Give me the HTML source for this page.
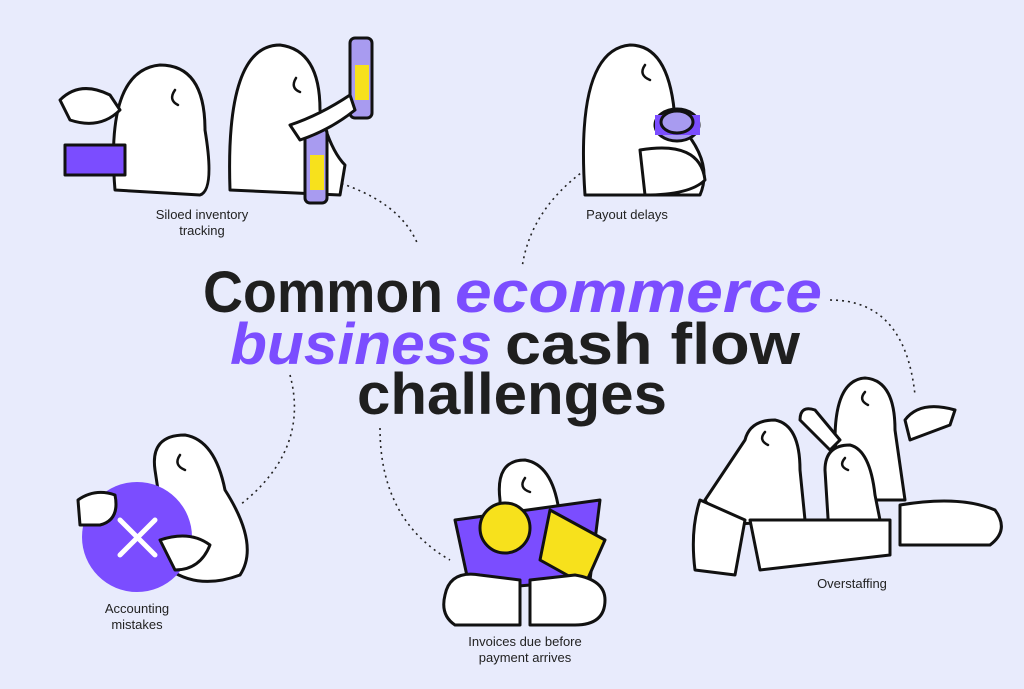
<!DOCTYPE html>
<html><head><meta charset="utf-8"><style>
html,body{margin:0;padding:0;background:#e8ebfc;}
svg{display:block}
text{font-family:"Liberation Sans",sans-serif}
</style></head><body>
<svg width="1024" height="689" viewBox="0 0 1024 689" xmlns="http://www.w3.org/2000/svg">
<rect width="1024" height="689" fill="#e8ebfc"/>
<g fill="none" stroke="#222" stroke-width="1.6" stroke-dasharray="2 4">
<path d="M330 180 Q400 200 418 245"/>
<path d="M585 170 Q530 210 522 268"/>
<path d="M830 300 Q905 300 915 395"/>
<path d="M290 375 Q310 450 240 505"/>
<path d="M380 428 Q380 520 450 560"/>
</g>
<g font-weight="bold" font-size="58">
<text x="203" y="312" fill="#1f1f1f" textLength="240" lengthAdjust="spacingAndGlyphs">Common</text>
<text x="455" y="312" fill="#7b4dff" font-style="italic" textLength="367" lengthAdjust="spacingAndGlyphs">ecommerce</text>
<text x="230" y="364" fill="#7b4dff" font-style="italic" textLength="262" lengthAdjust="spacingAndGlyphs">business</text>
<text x="505" y="364" fill="#1f1f1f" textLength="295" lengthAdjust="spacingAndGlyphs">cash flow</text>
<text x="357" y="414" fill="#1f1f1f" textLength="310" lengthAdjust="spacingAndGlyphs">challenges</text>
</g>
<g font-size="13" fill="#222" text-anchor="middle">
<text x="202" y="219">Siloed inventory</text><text x="202" y="235">tracking</text>
<text x="627" y="219">Payout delays</text>
<text x="852" y="588">Overstaffing</text>
<text x="137" y="613">Accounting</text><text x="137" y="629">mistakes</text>
<text x="525" y="646">Invoices due before</text><text x="525" y="662">payment arrives</text>
</g>
<g stroke="#111" stroke-width="3" fill="#fff" stroke-linejoin="round">
<!-- top-left figures -->
<path d="M115 190 Q105 70 160 65 Q205 65 205 130 Q215 190 200 195 Z"/>
<path d="M230 190 Q225 45 280 45 Q320 50 320 110 Q330 150 345 165 L340 195 Z"/>
<path d="M60 100 Q80 80 110 95 L120 110 Q100 130 70 120 Z"/>
<rect x="65" y="145" width="60" height="30" fill="#7b4dff"/>
<rect x="350" y="38" width="22" height="80" rx="5" fill="#a89bf0"/>
<rect x="355" y="65" width="14" height="35" fill="#f7e11c" stroke="none"/>
<rect x="305" y="128" width="22" height="75" rx="5" fill="#a89bf0"/>
<rect x="310" y="155" width="14" height="35" fill="#f7e11c" stroke="none"/>
<path d="M290 125 Q320 115 350 95 L355 110 Q330 130 300 140 Z"/>
<!-- payout -->
<path d="M585 195 Q575 50 630 45 Q670 45 675 120 Q715 160 700 195 Z"/>
<path d="M640 150 Q700 140 705 180 Q690 195 645 195 Z"/>
<ellipse cx="677" cy="125" rx="22" ry="16" fill="#a89bf0"/>
<rect x="655" y="115" width="45" height="20" fill="#7b4dff" stroke="none"/>
<ellipse cx="677" cy="122" rx="16" ry="11" fill="#a89bf0"/>
<!-- accounting -->
<path d="M155 470 Q150 435 185 435 Q215 440 225 490 Q260 545 240 575 Q200 590 170 570 Z"/>
<circle cx="137" cy="537" r="55" fill="#7b4dff" stroke="none"/>
<path d="M120 520 L155 555 M155 520 L120 555" stroke="#fff" stroke-width="5" stroke-linecap="round"/>
<path d="M78 500 Q95 488 115 495 Q120 520 100 525 L80 525 Z"/>
<path d="M160 540 Q190 530 210 545 Q200 570 175 570 Z"/>
<!-- invoices -->
<path d="M500 500 Q495 460 525 460 Q555 465 560 520 L500 520 Z"/>
<path d="M455 520 L600 500 L590 580 L470 590 Z" fill="#7b4dff"/>
<circle cx="505" cy="528" r="25" fill="#f7e11c"/>
<path d="M550 510 L605 540 L585 585 L540 560 Z" fill="#f7e11c"/>
<path d="M445 595 Q450 570 480 575 L520 580 L520 625 L455 625 Q440 615 445 595 Z"/>
<path d="M530 580 L575 575 Q605 580 605 600 Q605 625 575 625 L530 625 Z"/>
<!-- overstaffing -->
<path d="M745 440 Q750 420 775 420 Q800 425 800 470 L805 520 L720 525 L705 500 Z"/>
<path d="M835 440 Q835 380 865 378 Q895 380 895 430 L905 500 L840 500 Z"/>
<path d="M800 420 Q800 405 815 410 L840 440 L830 450 Z"/>
<path d="M905 420 Q920 400 955 410 L950 425 L910 440 Z"/>
<path d="M825 470 Q825 445 850 445 Q870 450 875 495 L885 545 L830 550 Z"/>
<path d="M900 505 Q960 495 995 510 Q1010 530 990 545 L900 545 Z"/>
<path d="M700 500 Q690 530 695 570 L735 575 L745 520 Z"/>
<path d="M750 520 L890 520 L890 555 L760 570 Z"/>
</g>
<g fill="none" stroke="#111" stroke-width="2.5" stroke-linecap="round">
<path d="M175 90 Q168 100 178 105"/><path d="M296 78 Q290 88 300 92"/>
<path d="M645 65 Q638 75 650 80"/><path d="M180 455 Q173 465 185 470"/>
<path d="M525 478 Q518 488 530 492"/><path d="M865 392 Q858 400 868 405"/>
<path d="M845 458 Q838 466 848 470"/><path d="M765 432 Q758 440 768 445"/>
</g>
</svg>
</body></html>
